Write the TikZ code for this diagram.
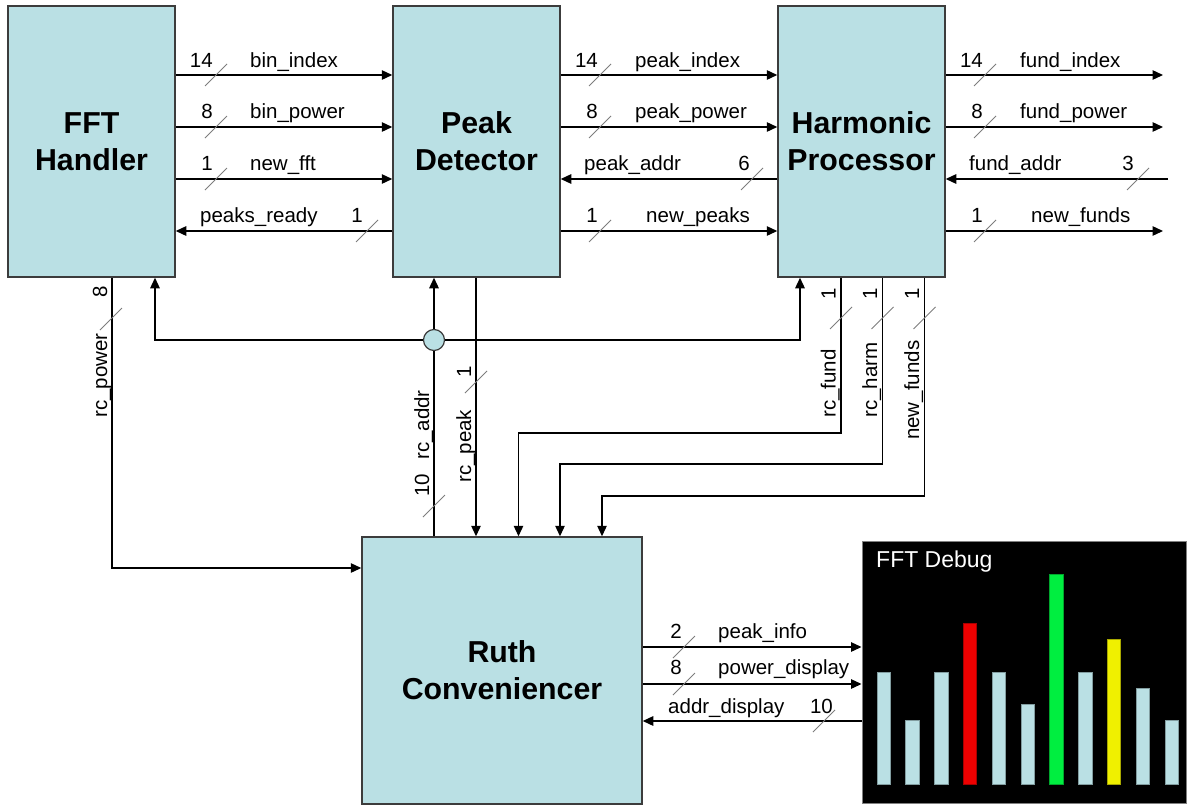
\documentclass[tikz,border=0pt]{standalone}
\usepackage{fontspec}
\setmainfont{Liberation Sans}
\usetikzlibrary{arrows.meta,calc}
\definecolor{boxfill}{RGB}{186,224,228}
\definecolor{boxline}{RGB}{60,60,60}
\definecolor{slashgray}{RGB}{125,125,125}
\definecolor{barred}{RGB}{238,0,0}
\definecolor{bargreen}{RGB}{0,238,64}
\definecolor{baryellow}{RGB}{240,240,0}
\newcommand{\wslash}[1]{\draw[slashmark] (#1) ++(-11,11) -- ++(22,-22);}
\begin{document}
\begin{tikzpicture}[x=1pt,y=-1pt,
  block/.style={draw=boxline, line width=1.5pt, fill=boxfill, inner sep=0pt, align=center,
    font=\fontsize{30.3}{37}\selectfont\bfseries},
  wire/.style={draw=black, line width=1.3pt, -{Triangle[length=10.5pt,width=9.5pt]}},
  plainwire/.style={draw=black, line width=1.3pt},
  lbl/.style={inner sep=0pt, font=\fontsize{20.5}{24}\selectfont},
  nl/.style={lbl, anchor=base west},
  nr/.style={lbl, anchor=base east},
  vlbl/.style={lbl, rotate=90, anchor=base west},
  slashmark/.style={draw=slashgray, line width=1pt},
]
\useasboundingbox (0,0) rectangle (1187,806);

% blocks
\node[block, minimum width=167pt, minimum height=271pt] (fft) at (91.5,141.5) {FFT\\Handler};
\node[block, minimum width=167pt, minimum height=271pt] (peak) at (476.5,141.5) {Peak\\Detector};
\node[block, minimum width=167pt, minimum height=271pt] (harm) at (861.5,141.5) {Harmonic\\Processor};
\node[block, minimum width=280pt, minimum height=267pt] (ruth) at (502,670.5) {Ruth\\Conveniencer};
\node[draw=gray, line width=1pt, fill=black, minimum width=324pt, minimum height=262pt, inner sep=0pt] (dbg) at (1024,672) {};
\node[anchor=base west, inner sep=0pt, text=white, font=\fontsize{23}{27}\selectfont] (dbgt) at (876,567) {FFT Debug};

% bars
\foreach \i/\t/\c in {0/672.7/boxfill,1/720.7/boxfill,2/672.7/boxfill,3/623/barred,4/672.7/boxfill,5/704.7/boxfill,6/574.3/bargreen,7/672.7/boxfill,8/639.7/baryellow,9/688/boxfill,10/720.7/boxfill}
  \draw[draw=\c!70!black, line width=0.8pt, fill=\c] ({877+28.8*\i},\t) rectangle ({890.3+28.8*\i},784.3);

% row levels
\coordinate (r1) at (0,75);
\coordinate (r2) at (0,127);
\coordinate (r3) at (0,179);
\coordinate (r4) at (0,231);
\coordinate (o1) at (1163,75);
\coordinate (o2) at (1163,127);
\coordinate (o3) at (1168,179);
\coordinate (o4) at (1163,231);

% top wires
\draw[wire] (fft.east |- r1) -- (peak.west |- r1);
\draw[wire] (fft.east |- r2) -- (peak.west |- r2);
\draw[wire] (fft.east |- r3) -- (peak.west |- r3);
\draw[wire] (peak.west |- r4) -- (fft.east |- r4);
\draw[wire] (peak.east |- r1) -- (harm.west |- r1);
\draw[wire] (peak.east |- r2) -- (harm.west |- r2);
\draw[wire] (harm.west |- r3) -- (peak.east |- r3);
\draw[wire] (peak.east |- r4) -- (harm.west |- r4);
\draw[wire] (harm.east |- r1) -- (o1);
\draw[wire] (harm.east |- r2) -- (o2);
\draw[wire] (o3) -- (harm.east |- r3);
\draw[wire] (harm.east |- r4) -- (o4);

% bottom right wires
\coordinate (s1) at (0,647);
\coordinate (s2) at (0,684);
\coordinate (s3) at (0,721);
\draw[wire] (ruth.east |- s1) -- (dbg.west |- s1);
\draw[wire] (ruth.east |- s2) -- (dbg.west |- s2);
\draw[wire] (dbg.west |- s3) -- (ruth.east |- s3);

% rc_power
\coordinate (pw) at (112,568);
\draw[wire] (fft.south -| pw) -- (pw) -- (ruth.west |- pw);

% bus
\node[circle, draw=boxline, line width=1.2pt, fill=boxfill, minimum size=21pt, inner sep=0pt] (bus) at (434,340) {};
\coordinate (bl) at (155,340);
\coordinate (br) at (800,340);
\draw[plainwire] (ruth.north -| bus) -- (bus);
\draw[wire] (bus) -- (peak.south -| bus);
\draw[wire] (bus) -- (bl) -- (fft.south -| bl);
\draw[wire] (bus) -- (br) -- (harm.south -| br);

% rc_peak
\coordinate (pk) at (476,0);
\draw[wire] (peak.south -| pk) -- (ruth.north -| pk);

% harmonic verticals
\coordinate (kF) at (841,433);
\coordinate (aF) at (518.5,0);
\coordinate (kH) at (882.5,464);
\coordinate (aH) at (560,0);
\coordinate (kN) at (924.5,496);
\coordinate (aN) at (602,0);
\draw[wire] (harm.south -| kF) -- (kF) -| (ruth.north -| aF);
\draw[wire] (harm.south -| kH) -- (kH) -| (ruth.north -| aH);
\draw[wire] (harm.south -| kN) -- (kN) -| (ruth.north -| aN);

% slashes
\wslash{216,75}
\wslash{216,127}
\wslash{216,179}
\wslash{367,231}
\wslash{600,75}
\wslash{600,127}
\wslash{752,179}
\wslash{600,231}
\wslash{985,75}
\wslash{985,127}
\wslash{1138,179}
\wslash{985,231}
\wslash{684,647}
\wslash{684,684}
\wslash{824,721}
\wslash{111,319}
\wslash{434,506}
\wslash{476,382}
\wslash{841,318}
\wslash{882.5,318}
\wslash{924.5,318}

% horizontal labels
\node[nr] (n1) at (213,67) {14};
\node[nl] (t1) at (250,67) {bin\_index};
\node[nr] (n2) at (213,118) {8};
\node[nl] (t2) at (250,118) {bin\_power};
\node[nr] (n3) at (213,170) {1};
\node[nl] (t3) at (250,170) {new\_fft};
\node[nl] (t4) at (200,222) {peaks\_ready};
\node[nr] (n4) at (363,222) {1};

\node[nr] (n5) at (598,67) {14};
\node[nl] (t5) at (635,67) {peak\_index};
\node[nr] (n6) at (598,118) {8};
\node[nl] (t6) at (635,118) {peak\_power};
\node[nl] (t7) at (584,170) {peak\_addr};
\node[nr] (n7) at (750,170) {6};
\node[nr] (n8) at (598,222) {1};
\node[nl] (t8) at (646,222) {new\_peaks};

\node[nr] (n9) at (983,67) {14};
\node[nl] (t9) at (1020,67) {fund\_index};
\node[nr] (n10) at (983,118) {8};
\node[nl] (t10) at (1020,118) {fund\_power};
\node[nl] (t11) at (969,170) {fund\_addr};
\node[nr] (n11) at (1134,170) {3};
\node[nr] (n12) at (983,222) {1};
\node[nl] (t12) at (1031,222) {new\_funds};

\node[nr] (n13) at (682,638) {2};
\node[nl] (t13) at (718,638) {peak\_info};
\node[nr] (n14) at (682,674) {8};
\node[nl] (t14) at (718,674) {power\_display};
\node[nl] (t15) at (668,713) {addr\_display};
\node[nr] (n15) at (833,713) {10};

% vertical labels
\node[vlbl] (v1) at (107,418) {rc\_power};
\node[vlbl] (vn1) at (107,298) {8};
\node[vlbl] (v2) at (429,460) {rc\_addr};
\node[vlbl] (vn2) at (429,497) {10};
\node[vlbl] (v3) at (471,483) {rc\_peak};
\node[vlbl] (vn3) at (471,378) {1};
\node[vlbl] (v4) at (835.5,418) {rc\_fund};
\node[vlbl] (vn4) at (835.5,300) {1};
\node[vlbl] (v5) at (877,418) {rc\_harm};
\node[vlbl] (vn5) at (877,300) {1};
\node[vlbl] (v6) at (919,440) {new\_funds};
\node[vlbl] (vn6) at (919,300) {1};
\end{tikzpicture}
\end{document}
